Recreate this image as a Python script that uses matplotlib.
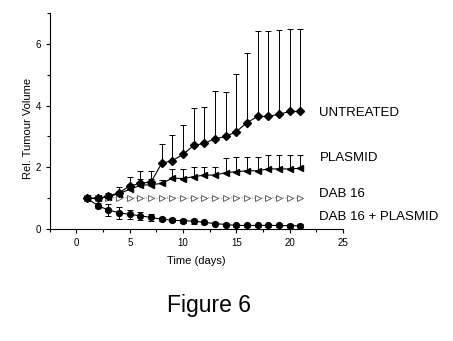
import matplotlib
matplotlib.use('Agg')
import matplotlib.pyplot as plt
import numpy as np

plt.rcParams['font.family'] = ['Liberation Sans', 'DejaVu Sans']

days = np.arange(1, 22)

untreated = [1.0, 1.0, 1.07, 1.18, 1.40, 1.48, 1.53, 2.13, 2.22, 2.42, 2.71,
             2.78, 2.93, 3.0, 3.16, 3.45, 3.65, 3.65, 3.72, 3.81, 3.81]
untreated_top = [1.0, 1.0, 1.18, 1.37, 1.68, 1.89, 1.89, 2.75, 3.05, 3.38, 3.92,
                 3.94, 4.46, 4.45, 5.03, 5.70, 6.43, 6.43, 6.44, 6.49, 6.49]

plasmid = [1.0, 1.0, 1.05, 1.15, 1.29, 1.42, 1.44, 1.48, 1.65, 1.64, 1.70,
           1.75, 1.75, 1.83, 1.86, 1.89, 1.89, 1.95, 1.95, 1.95, 1.97]
plasmid_top = [1.0, 1.0, 1.1, 1.25, 1.45, 1.62, 1.62, 1.6, 1.94, 1.94, 2.0,
               2.0, 2.0, 2.29, 2.32, 2.32, 2.32, 2.40, 2.40, 2.40, 2.40]

dab16 = [1.0, 1.0, 1.02, 1.01, 1.02, 1.0, 1.01, 1.0, 1.02, 1.0, 1.01,
         1.02, 1.01, 1.0, 1.02, 1.01, 1.0, 1.01, 1.02, 1.0, 1.01]

dab16_plasmid = [1.0, 0.76, 0.62, 0.53, 0.48, 0.43, 0.38, 0.32, 0.29, 0.27, 0.26,
                 0.22, 0.18, 0.15, 0.12, 0.12, 0.12, 0.12, 0.12, 0.11, 0.11]
dab16_plasmid_err = [0.0, 0.09, 0.2, 0.19, 0.15, 0.12, 0.1, 0.07, 0.07, 0.07, 0.08,
                     0.05, 0.05, 0.05, 0.05, 0.05, 0.05, 0.05, 0.05, 0.05, 0.05]

labels = ['UNTREATED', 'PLASMID', 'DAB 16', 'DAB 16 + PLASMID']
label_y = [3.75, 2.3, 1.13, 0.39]

fig = plt.figure(figsize=(4.53, 3.41), dpi=100)
ax = fig.add_axes([0.110, 0.328, 0.647, 0.634])

up_u = np.array(untreated_top) - np.array(untreated)
ax.errorbar(days, untreated, yerr=[np.zeros(len(days)), up_u], fmt='-', color='black',
            marker='D', ms=4, lw=0.8, elinewidth=0.7, capsize=2.5, capthick=0.7)

up_p = np.array(plasmid_top) - np.array(plasmid)
ax.errorbar(days, plasmid, yerr=[np.zeros(len(days)), up_p], fmt='-', color='black',
            marker='<', ms=4.5, lw=0.8, elinewidth=0.7, capsize=2.5, capthick=0.7)

ax.plot(days, dab16, linestyle=':', color='0.4', lw=0.7, marker='>', ms=4.5,
        mfc='white', mec='0.3', mew=0.6)

ax.errorbar(days, dab16_plasmid, yerr=dab16_plasmid_err, fmt='-', color='black',
            marker='o', ms=4.2, lw=0.8, elinewidth=0.7, capsize=2.5, capthick=0.7)

for lab, yy in zip(labels, label_y):
    ax.text(22.8, yy, lab, fontsize=9.5, va='center', ha='left', clip_on=False)

ax.set_xlim(-2.5, 25)
ax.set_ylim(0, 7)
ax.set_xticks([0, 5, 10, 15, 20, 25])
ax.set_xticks(np.arange(-2.5, 25.1, 2.5), minor=True)
ax.set_yticks([0, 2, 4, 6])
ax.set_yticks([1, 3, 5, 7], minor=True)
ax.tick_params(labelsize=7, width=0.8, length=3)
ax.tick_params(which='minor', width=0.8, length=2)
ax.spines['top'].set_visible(False)
ax.spines['right'].set_visible(False)
ax.set_xlabel('Time (days)', fontsize=8)
ax.set_ylabel('Rel. Tumour Volume', fontsize=8)
ax.xaxis.set_label_coords(0.5, -0.125)
ax.yaxis.set_label_coords(-0.056, 0.468)

fig.text(0.462, 0.105, 'Figure 6', fontsize=16.5, ha='center', va='center')

plt.savefig('out.png', dpi=100)
